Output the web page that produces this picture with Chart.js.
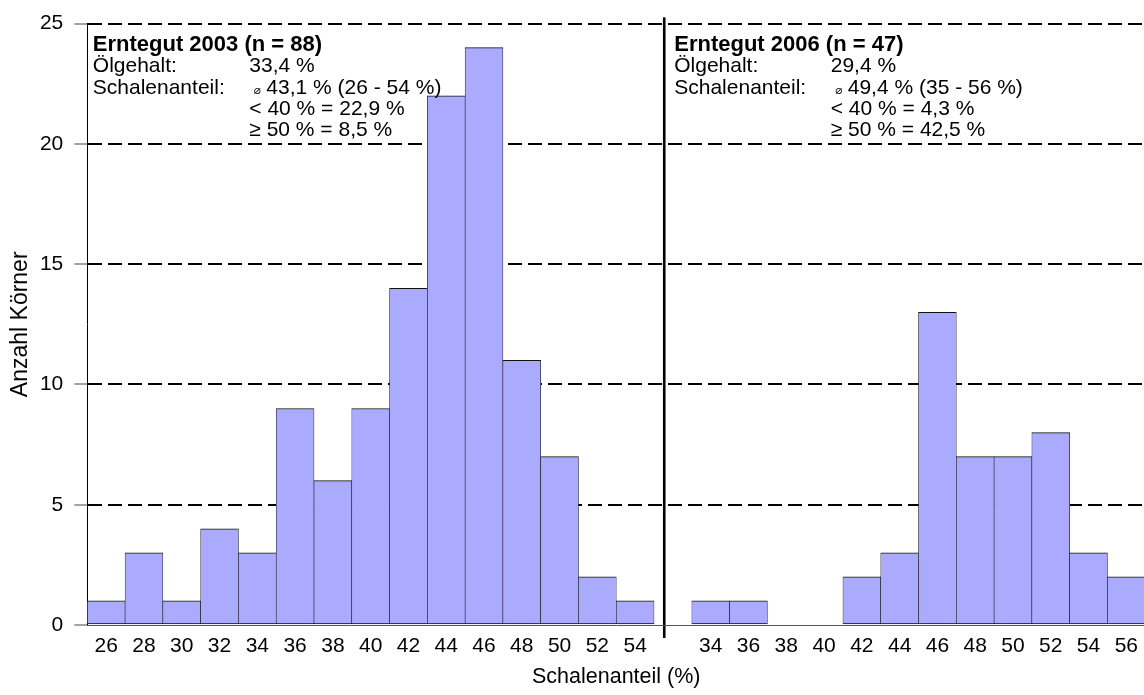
<!DOCTYPE html>
<html>
<head>
<meta charset="utf-8">
<script src="https://cdn.jsdelivr.net/npm/chart.js@4"></script>
<style>
  html, body { margin: 0; padding: 0; background: #fff; overflow: hidden; }
  #wrap { width: 1147px; height: 695px; position: relative; }
</style>
</head>
<body>
<div id="wrap"><canvas id="c"></canvas></div>
<script>
// Grain histograms: shell fraction classes (%) and number of grains per class
const bins2003 = ['26', '28', '30', '32', '34', '36', '38', '40', '42', '44', '46', '48', '50', '52', '54'];
const counts2003 = [1, 3, 1, 4, 3, 9, 6, 9, 14, 22, 24, 11, 7, 2, 1];

const bins2006 = ['34', '36', '38', '40', '42', '44', '46', '48', '50', '52', '54', '56'];
const counts2006 = [1, 1, 0, 0, 2, 3, 13, 7, 7, 8, 3, 2];

// Panel notes
const panelTitles = ['Erntegut 2003 (n = 88)', 'Erntegut 2006 (n = 47)'];
const oilContent = ['33,4 %', '29,4 %'];
const shellMean = ['43,1 % (26 - 54 %)', '49,4 % (35 - 56 %)'];
const shellBelow40 = ['< 40 % = 22,9 %', '< 40 % = 4,3 %'];
const shellAbove50 = ['≥ 50 % = 8,5 %', '≥ 50 % = 42,5 %'];

const yMax = 25;
const yStep = 5;

// One shared category axis: the 2003 classes, an empty spacer slot, then the 2006 classes
const labels = [...bins2003, '', ...bins2006];
const values = [...counts2003, 0, ...counts2006];

const FONT = "'Liberation Sans', Arial, Helvetica, sans-serif";
const SEP_SHIFT = -0.23; // divider position inside the spacer slot (fraction of a slot)

const panelNotes = {
  id: 'panelNotes',
  afterDatasetsDraw(chart) {
    const { ctx, chartArea, scales: { x } } = chart;
    const slot = x.getPixelForValue(1) - x.getPixelForValue(0);
    const sepX = x.getPixelForValue(bins2003.length) + SEP_SHIFT * slot;
    const lineGap = 21.3;
    const base0 = chartArea.top + 27.5;
    const starts = [chartArea.left + 5.5, sepX + 10];

    ctx.save();
    ctx.fillStyle = '#000';
    ctx.textBaseline = 'alphabetic';
    ctx.textAlign = 'left';
    starts.forEach((x0, i) => {
      const col = x0 + 156.5;
      ctx.font = 'bold 22px ' + FONT;
      ctx.fillText(panelTitles[i], x0, base0);
      ctx.font = '21px ' + FONT;
      ctx.fillText('Ölgehalt:', x0, base0 + lineGap);
      ctx.fillText(oilContent[i], col, base0 + lineGap);
      ctx.fillText('Schalenanteil:', x0, base0 + 2 * lineGap);
      ctx.font = "12px 'DejaVu Sans', sans-serif";
      ctx.fillText('⌀', col + 4.5, base0 + 2 * lineGap);
      ctx.font = '21px ' + FONT;
      ctx.fillText(shellMean[i], col + 17, base0 + 2 * lineGap);
      ctx.fillText(shellBelow40[i], col, base0 + 3 * lineGap);
      ctx.fillText(shellAbove50[i], col, base0 + 4 * lineGap);
    });

    // divider between the two harvests
    ctx.fillStyle = '#000';
    const top = chartArea.top - 6.3;
    const bottom = chartArea.bottom + 13;
    ctx.fillRect(sepX - 1.3, top, 2.6, bottom - top);
    ctx.restore();
  }
};

new Chart(document.getElementById('c'), {
  type: 'bar',
  data: {
    labels: labels,
    datasets: [{
      data: values,
      backgroundColor: '#aaaaff',
      borderColor: '#111111',
      borderWidth: { top: 1, bottom: 1, left: 0.6, right: 0.6 },
      borderSkipped: false,
      barPercentage: 1,
      categoryPercentage: 1
    }]
  },
  options: {
    responsive: true,
    maintainAspectRatio: false,
    animation: false,
    devicePixelRatio: 1,
    layout: { padding: { left: 0, top: 19, right: 0, bottom: 0 } },
    plugins: {
      legend: { display: false },
      tooltip: { enabled: false },
      title: { display: false }
    },
    scales: {
      x: {
        grid: { display: false, drawTicks: false },
        border: { display: true, color: '#555', width: 1, z: 1 },
        ticks: {
          color: '#000',
          font: { family: FONT, size: 21 },
          padding: 9,
          maxRotation: 0,
          autoSkip: false
        },
        title: {
          display: true,
          text: 'Schalenanteil (%)',
          color: '#000',
          font: { family: FONT, size: 21.5 },
          padding: { top: 0, bottom: 5 }
        },
        afterFit(scale) { scale.height = 70; }
      },
      y: {
        min: 0,
        max: yMax,
        ticks: {
          stepSize: yStep,
          color: '#000',
          font: { family: FONT, size: 21 },
          padding: 11
        },
        grid: {
          color: (c) => (c.tick && c.tick.value === 0 ? 'rgba(0,0,0,0)' : '#000'),
          lineWidth: 2,
          drawTicks: true,
          tickLength: 13,
          tickColor: '#666',
          tickWidth: 1.2
        },
        border: { display: true, color: '#000', width: 1, dash: [14, 6] },
        title: {
          display: true,
          text: 'Anzahl Körner',
          color: '#000',
          font: { family: FONT, size: 23 },
          padding: { top: 7, bottom: 0 }
        },
        afterFit(scale) { scale.width = 87.3; }
      }
    }
  },
  plugins: [panelNotes]
});
</script>
</body>
</html>
